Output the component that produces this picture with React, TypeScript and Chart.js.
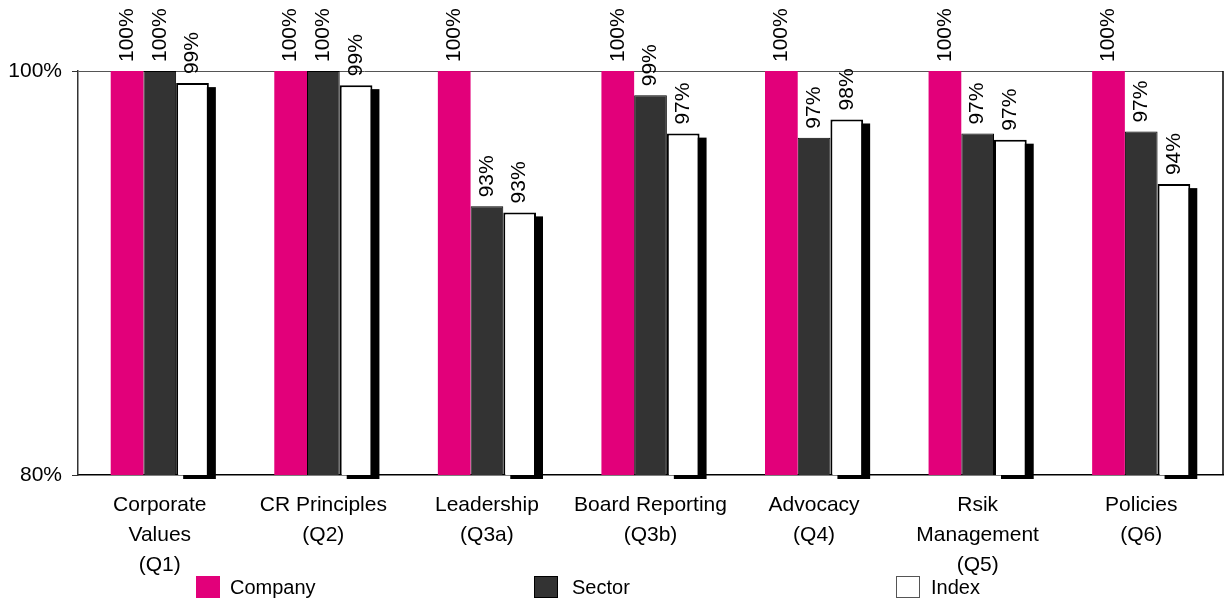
import React, { useEffect, useRef } from "react";
import { Chart, registerables } from "chart.js";

Chart.register(...registerables);

const categories: string[][] = [
  ["Corporate", "Values", "(Q1)"],
  ["CR Principles", "(Q2)"],
  ["Leadership", "(Q3a)"],
  ["Board Reporting", "(Q3b)"],
  ["Advocacy", "(Q4)"],
  ["Rsik", "Management", "(Q5)"],
  ["Policies", "(Q6)"],
];
const companyValues = [100, 100, 100, 100, 100, 100, 100];
const sectorValues = [100, 100, 93.3, 98.8, 96.7, 96.9, 97.0];
const indexValues = [99.4, 99.3, 93.0, 96.9, 97.6, 96.6, 94.4];
const yTicks = [80, 100];

const FONT = '"Liberation Sans", Arial, sans-serif';
const PINK = "#E2007A";
const DARK = "#333333";

const shadowPlugin = {
  id: "indexShadow",
  beforeDatasetDraw(chart: any, args: any) {
    if (args.index !== 2) return;
    const ctx = chart.ctx;
    const bottom = chart.chartArea.bottom;
    const meta = chart.getDatasetMeta(2);
    ctx.save();
    ctx.fillStyle = "#000";
    meta.data.forEach((el: any) => {
      const p = el.getProps(["x", "y", "width"], true);
      ctx.fillRect(p.x - p.width / 2 + 7, p.y + 4, p.width, bottom - p.y);
    });
    ctx.restore();
  },
};

const labelPlugin = {
  id: "rotLabels",
  afterDatasetsDraw(chart: any) {
    const ctx = chart.ctx;
    ctx.save();
    ctx.font = `21px ${FONT}`;
    ctx.fillStyle = "#000";
    ctx.textAlign = "left";
    ctx.textBaseline = "middle";
    chart.data.datasets.forEach((ds: any, di: number) => {
      const meta = chart.getDatasetMeta(di);
      meta.data.forEach((el: any, i: number) => {
        const p = el.getProps(["x", "y"], true);
        ctx.save();
        ctx.translate(p.x, p.y - 9);
        ctx.rotate(-Math.PI / 2);
        ctx.fillText(Math.round(ds.data[i]) + "%", 0, 0);
        ctx.restore();
      });
    });
    ctx.restore();
  },
};

const borderPlugin = {
  id: "rightBorder",
  afterDraw(chart: any) {
    const { ctx, chartArea } = chart;
    ctx.save();
    ctx.strokeStyle = "#000";
    ctx.lineWidth = 1.5;
    ctx.beginPath();
    ctx.moveTo(chartArea.right, chartArea.top);
    ctx.lineTo(chartArea.right, chartArea.bottom);
    ctx.stroke();
    ctx.restore();
  },
};

export default function App() {
  const ref = useRef<HTMLCanvasElement>(null);
  useEffect(() => {
    if (!ref.current) return;
    const chart = new Chart(ref.current, {
      type: "bar",
      data: {
        labels: categories,
        datasets: [
          {
            label: "Company",
            data: companyValues,
            backgroundColor: PINK,
            borderWidth: 0,
          },
          {
            label: "Sector",
            data: sectorValues,
            backgroundColor: DARK,
            borderColor: "#000",
            borderWidth: 1,
          },
          {
            label: "Index",
            data: indexValues,
            backgroundColor: "#fff",
            borderColor: "#000",
            borderWidth: 2,
          },
        ],
      },
      options: {
        animation: false,
        responsive: false,
        maintainAspectRatio: false,
        layout: { padding: { top: 71, right: 2, bottom: 0, left: 0 } },
        datasets: {
          bar: { categoryPercentage: 0.6, barPercentage: 1 },
        },
        plugins: {
          legend: { display: false },
          tooltip: { enabled: false },
        },
        scales: {
          x: {
            grid: { display: false, drawTicks: false },
            border: { display: true, color: "#000", width: 1.5 },
            ticks: {
              autoSkip: false,
              maxRotation: 0,
              minRotation: 0,
              padding: 15,
              color: "#000",
              font: { family: FONT, size: 21, lineHeight: 1.43 },
            },
            afterFit: (s: any) => {
              s.height = 124;
            },
          },
          y: {
            min: 80,
            max: 100,
            afterBuildTicks: (s: any) => {
              s.ticks = yTicks.map((v) => ({ value: v }));
            },
            grid: {
              color: (c: any) =>
                c.tick && c.tick.value === 100 ? "#555" : "rgba(0,0,0,0)",
              drawTicks: true,
              tickLength: 6,
              tickColor: "#333",
            },
            border: { display: true, color: "#333", width: 1.5 },
            ticks: {
              padding: 10,
              color: "#000",
              font: { family: FONT, size: 21 },
              callback: (v: any) => v + "%",
            },
            afterFit: (s: any) => {
              s.width = 78;
            },
          },
        },
      },
      plugins: [shadowPlugin, labelPlugin, borderPlugin],
    });
    return () => chart.destroy();
  }, []);

  const legendItems = [
    { label: "Company", color: PINK, border: "none", left: 196, textLeft: 230 },
    { label: "Sector", color: DARK, border: "1.5px solid #000", left: 534, textLeft: 572 },
    { label: "Index", color: "#fff", border: "1.5px solid #555", left: 896, textLeft: 931 },
  ];

  return (
    <div
      style={{
        position: "absolute",
        left: 0,
        top: 0,
        width: 1225,
        height: 599,
        overflow: "hidden",
        background: "#fff",
        fontFamily: FONT,
      }}
    >
      <canvas ref={ref} width={1225} height={599} style={{ display: "block" }} />
      {legendItems.map((it) => (
        <React.Fragment key={it.label}>
          <div
            style={{
              position: "absolute",
              left: it.left,
              top: 576,
              width: 24,
              height: 22,
              boxSizing: "border-box",
              background: it.color,
              border: it.border,
            }}
          />
          <div
            style={{
              position: "absolute",
              left: it.textLeft,
              top: 575,
              fontSize: 20,
              lineHeight: "24px",
              color: "#000",
            }}
          >
            {it.label}
          </div>
        </React.Fragment>
      ))}
    </div>
  );
}
